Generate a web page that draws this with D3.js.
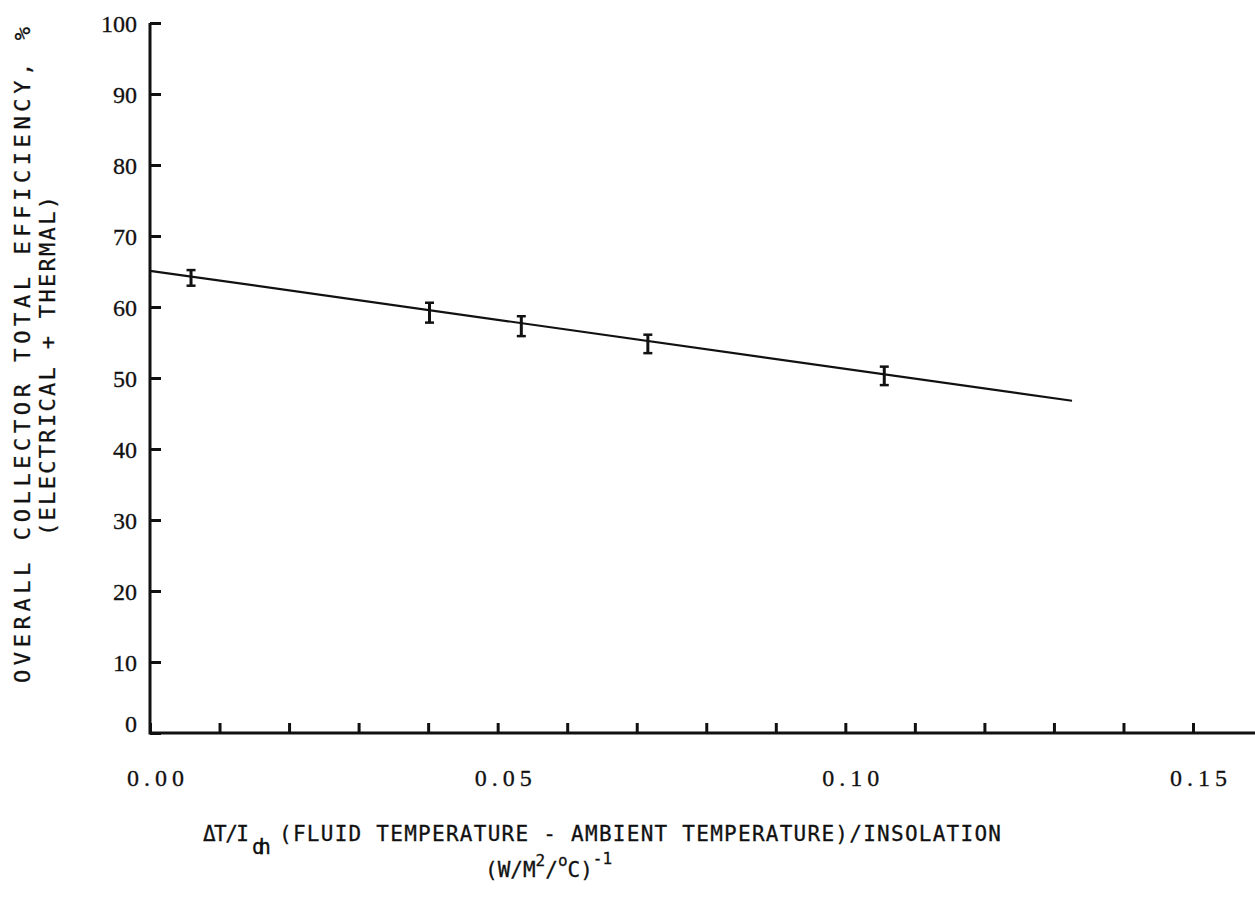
<!DOCTYPE html>
<html>
<head>
<meta charset="utf-8">
<script src="https://cdn.jsdelivr.net/npm/d3@7"></script>
<style>
  html, body { margin: 0; padding: 0; background: #fff; }
  svg { display: block; }
  .tick-label { font-family: "Liberation Serif", "DejaVu Serif", serif; fill: #111; stroke: #111; stroke-width: 0.3px; }
  .title { font-family: "DejaVu Sans Mono", "Liberation Mono", monospace; fill: #111; stroke: #111; stroke-width: 0.3px; }
</style>
</head>
<body>
<svg id="chart" width="1255" height="899"></svg>
<script>
// Measured collector efficiency vs. reduced temperature difference
const deltaT      = [0.0059, 0.0402, 0.0534, 0.0716, 0.1056];   // (W/m²/°C)^-1
const efficiency  = [64.1, 59.2, 57.3, 54.8, 50.3];             // %
const errorHalf   = [1.1, 1.4, 1.4, 1.3, 1.3];                  // % (± band)

// Least-squares fit line end points
const fitX = [0.0, 0.1326];
const fitY = [65.1, 46.8];

const yTickValues = [0, 10, 20, 30, 40, 50, 60, 70, 80, 90, 100];
const xMinorTicks = [0.00, 0.01, 0.02, 0.03, 0.04, 0.05, 0.06, 0.07, 0.08, 0.09, 0.10, 0.11, 0.12, 0.13, 0.14, 0.15];
const xTickLabels = ["0.00", "0.05", "0.10", "0.15"];
const xLabelValues = [0.00, 0.05, 0.10, 0.15];

const svg = d3.select("#chart");

const x = d3.scaleLinear().domain([0, 0.15]).range([150, 1193]);
const y = d3.scaleLinear().domain([0, 100]).range([733, 23]);

const ink = "#111";

// Axes lines
svg.append("line")
  .attr("x1", x(0)).attr("x2", 1255)
  .attr("y1", y(0)).attr("y2", y(0))
  .attr("stroke", ink).attr("stroke-width", 3);
svg.append("line")
  .attr("x1", x(0)).attr("x2", x(0))
  .attr("y1", y(0) + 1.5).attr("y2", y(100))
  .attr("stroke", ink).attr("stroke-width", 3);

// Y axis ticks (pointing inward) and labels
const yAxis = d3.axisLeft(y)
  .tickValues(yTickValues)
  .tickSizeInner(-11)
  .tickSizeOuter(0)
  .tickPadding(13)
  .tickFormat(d3.format("d"));
const gy = svg.append("g").attr("transform", `translate(${x(0)},0)`).call(yAxis);
gy.select(".domain").remove();
gy.selectAll(".tick line").attr("stroke", ink).attr("stroke-width", 3);
gy.selectAll(".tick text")
  .attr("class", "tick-label")
  .style("font-size", "24px")
  .attr("fill", ink)
  .attr("dy", d => d === 0 ? "-0.05em" : "0.35em");

// X axis minor ticks (pointing inward)
const xAxis = d3.axisBottom(x)
  .tickValues(xMinorTicks)
  .tickSizeInner(-10)
  .tickSizeOuter(0)
  .tickFormat("");
const gx = svg.append("g").attr("transform", `translate(0,${y(0)})`).call(xAxis);
gx.select(".domain").remove();
gx.selectAll(".tick line").attr("stroke", ink).attr("stroke-width", 3);

// X tick labels
svg.append("g").selectAll("text")
  .data(xLabelValues)
  .join("text")
  .attr("class", "tick-label")
  .attr("x", d => x(d) + 8)
  .attr("y", 786)
  .attr("text-anchor", "middle")
  .style("font-size", "24px")
  .style("letter-spacing", "5px")
  .text((d, i) => xTickLabels[i]);

// Fitted line
svg.append("line")
  .attr("x1", x(fitX[0])).attr("y1", y(fitY[0]))
  .attr("x2", x(fitX[1])).attr("y2", y(fitY[1]))
  .attr("stroke", ink).attr("stroke-width", 2.2);

// Error bars
const pts = deltaT.map((d, i) => ({ x: d, y: efficiency[i], e: errorHalf[i] }));
const eb = svg.append("g").selectAll("g").data(pts).join("g");
eb.append("line")
  .attr("x1", d => x(d.x)).attr("x2", d => x(d.x))
  .attr("y1", d => y(d.y - d.e)).attr("y2", d => y(d.y + d.e))
  .attr("stroke", ink).attr("stroke-width", 3);
eb.append("line")
  .attr("x1", d => x(d.x) - 4.5).attr("x2", d => x(d.x) + 4.5)
  .attr("y1", d => y(d.y + d.e)).attr("y2", d => y(d.y + d.e))
  .attr("stroke", ink).attr("stroke-width", 2.5);
eb.append("line")
  .attr("x1", d => x(d.x) - 4.5).attr("x2", d => x(d.x) + 4.5)
  .attr("y1", d => y(d.y - d.e)).attr("y2", d => y(d.y - d.e))
  .attr("stroke", ink).attr("stroke-width", 2.5);

// Y axis title (two lines, rotated)
svg.append("text")
  .attr("class", "title")
  .attr("transform", "translate(30,683) rotate(-90)")
  .style("font-size", "22px")
  .attr("textLength", 656)
  .attr("lengthAdjust", "spacing")
  .text("OVERALL COLLECTOR TOTAL EFFICIENCY, %");
svg.append("text")
  .attr("class", "title")
  .attr("transform", "translate(55,536) rotate(-90)")
  .style("font-size", "22px")
  .attr("textLength", 340)
  .attr("lengthAdjust", "spacing")
  .text("(ELECTRICAL + THERMAL)");

// X axis title, line 1
svg.append("text")
  .attr("class", "title").attr("x", 203).attr("y", 841)
  .style("font-size", "21px")
  .attr("textLength", 46).attr("lengthAdjust", "spacing")
  .text("ΔT/I");
svg.append("text")
  .attr("class", "title").attr("x", 252).attr("y", 854)
  .style("font-size", "21px")
  .attr("textLength", 19).attr("lengthAdjust", "spacing")
  .text("dn");
svg.append("text")
  .attr("class", "title").attr("x", 279).attr("y", 841)
  .style("font-size", "21px")
  .attr("textLength", 722).attr("lengthAdjust", "spacing")
  .text("(FLUID TEMPERATURE - AMBIENT TEMPERATURE)/INSOLATION");

// X axis title, line 2: (W/M²/°C)⁻¹
const l2 = svg.append("text").attr("class", "title").attr("x", 485).attr("y", 877).style("font-size", "21px");
l2.append("tspan").text("(W/M");
l2.append("tspan").attr("dy", -11).style("font-size", "16px").text("2");
l2.append("tspan").attr("dy", 11).text("/");
l2.append("tspan").attr("dy", -11).style("font-size", "16px").text("o");
l2.append("tspan").attr("dy", 11).text("C)");
l2.append("tspan").attr("dy", -13).style("font-size", "16px").text("-1");
</script>
</body>
</html>
